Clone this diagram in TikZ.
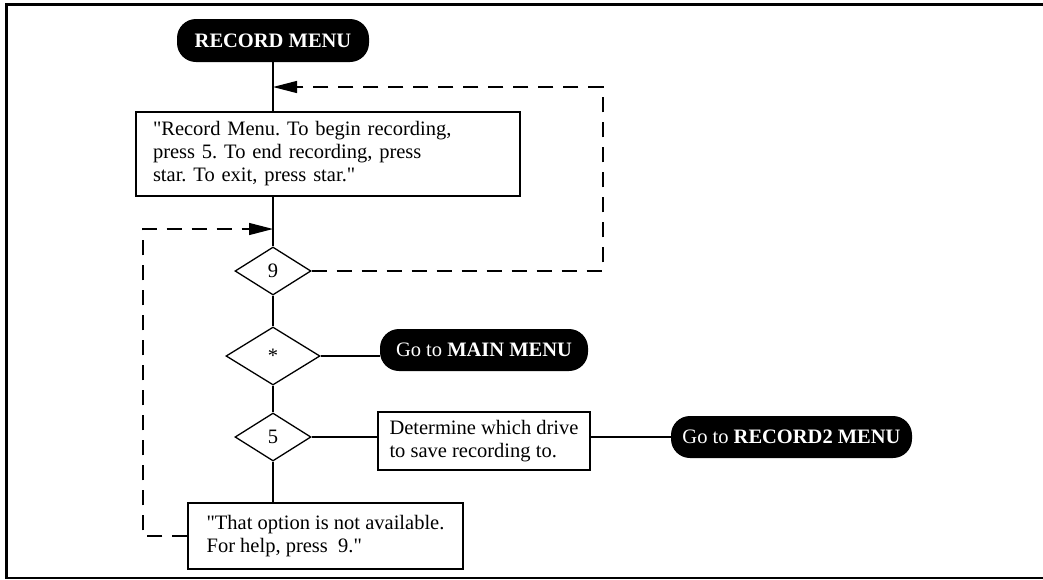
\documentclass[tikz,border=0pt]{standalone}
\usepackage{fontspec}
\setmainfont{Liberation Serif}[Ligatures=TeXOff]
\usetikzlibrary{shapes.geometric,arrows.meta}
\begin{document}
\frenchspacing
\begin{tikzpicture}[x=1pt,y=-1pt,
  every node/.style={font=\fontsize{20.5}{23}\selectfont\frenchspacing},
  pill/.style={rectangle, fill=black, text=white, rounded corners=19pt, inner sep=0pt},
  box/.style={rectangle, draw, line width=1.3pt, align=left, inner ysep=4pt},
  dia/.style={diamond, draw, line width=1.3pt, inner sep=0pt},
  conn/.style={line width=1.3pt},
  dashconn/.style={line width=1.3pt, dash pattern=on 15pt off 10pt},
  arrowtip/.style={-{Triangle[length=24pt,width=12pt]}}
]
\useasboundingbox (0,0) rectangle (1043,579);
% frame
\draw[line width=3pt] (6.5,578) -- (6.5,4.7) -- (1043,4.7);
\draw[line width=1.5pt] (5,577.8) -- (1043,577.8);

% nodes
\node[pill, minimum width=192pt, minimum height=43pt] (rec) at (273,40.5) {\bfseries RECORD MENU};
\node[box, text width=350pt, inner xsep=17pt, minimum height=84pt] (box1) at (328,154)
  {"Record Menu. To begin recording,\\ press 5. To end recording, press\\ star. To exit, press star."};
\node[dia, minimum width=76pt, minimum height=48pt] (d9) at (273,271) {9};
\node[dia, minimum width=94pt, minimum height=58pt] (dstar) at (273,356) {*};
\node[pill, minimum width=208pt, minimum height=42pt] (main) at (484,350) {Go to \textbf{MAIN MENU}};
\node[dia, minimum width=76pt, minimum height=48pt] (d5) at (273,437) {5};
\node[box, minimum width=212pt, minimum height=58pt] (det) at (484,441)
  {Determine which drive\\ to save recording to.};
\node[pill, minimum width=241pt, minimum height=42pt] (rec2) at (791.5,437) {Go to \textbf{RECORD2 MENU}};
\node[box, minimum width=275pt, minimum height=66pt] (box2) at (325.5,536)
  {"That option is not available.\\ For help, press\ \ 9."};

% coordinates for loops
\coordinate (in1) at (273,87);
\coordinate (in2) at (273,229);
\coordinate (rc) at (603,87);
\coordinate (lc) at (143,229);

% solid connectors
\draw[conn] (rec.south) -- (rec.south |- box1.north);
\draw[conn] (rec.south |- box1.south) -- (d9.north);
\draw[conn] (d9.south) -- (dstar.north);
\draw[conn] (dstar.south) -- (d5.north);
\draw[conn] (d5.south) -- (d5.south |- box2.north);
\draw[conn] (dstar.east) -- (dstar.east -| main.west);
\draw[conn] (d5.east) -- (d5.east -| det.west);
\draw[conn] (d5.east -| det.east) -- (d5.east -| rec2.west);

% dashed loops
\draw[dashconn, arrowtip] (d9.east) -| (rc) -- (in1);
\draw[dashconn, arrowtip] (box2.west) -| (lc) -- (in2);
\end{tikzpicture}
\end{document}
